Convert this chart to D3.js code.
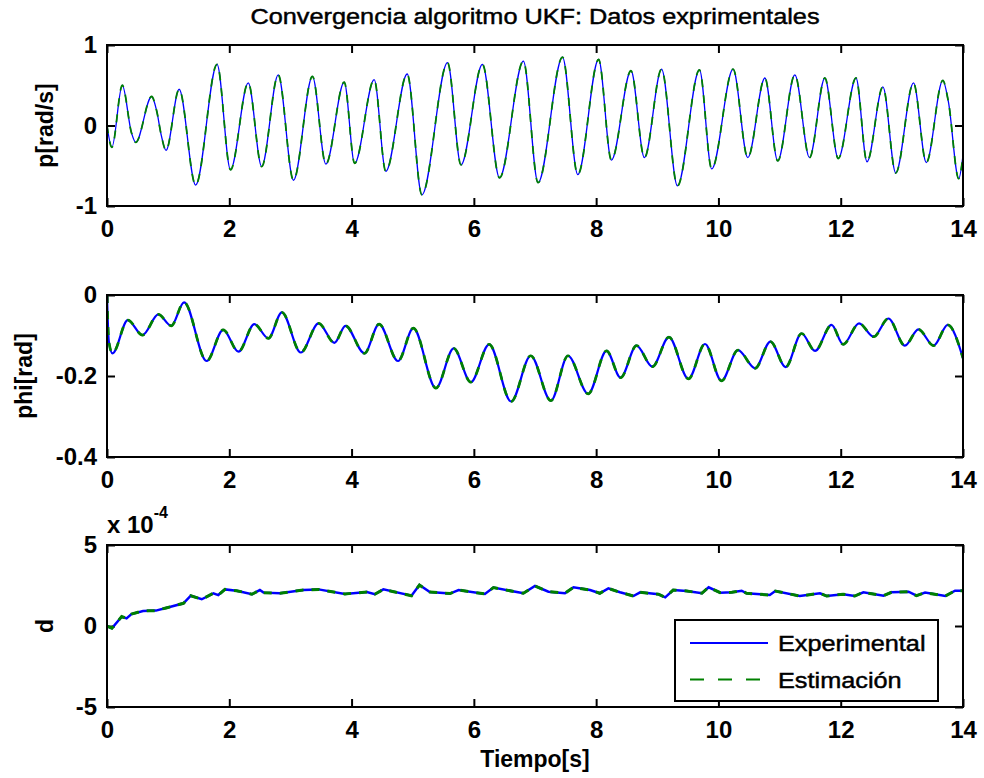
<!DOCTYPE html>
<html>
<head>
<meta charset="utf-8">
<script src="https://cdnjs.cloudflare.com/ajax/libs/d3/7.8.5/d3.min.js"></script>
<style>
  body { margin: 0; background: #fff; }
  svg text { font-family: "Liberation Sans", Arial, Helvetica, sans-serif; fill: #000; }
</style>
</head>
<body>
<svg id="chart" width="984" height="778"></svg>
<script>
// values
var titleText = "Convergencia algoritmo UKF: Datos exprimentales";
var xLabelText = "Tiempo[s]";
var seriesNames = ["Experimental", "Estimación"];
var xTicks = [0, 2, 4, 6, 8, 10, 12, 14];

// p [rad/s]
var pTime = [0, 0.08, 0.25, 0.40, 0.47, 0.73, 0.81, 0.89, 0.965, 1.18, 1.45, 1.80, 2.02, 2.31, 2.53, 2.80,
  3.05, 3.36, 3.58, 3.88, 4.05, 4.37, 4.56, 4.91, 5.15, 5.57, 5.79, 6.14, 6.42, 6.81, 7.05, 7.45,
  7.70, 8.04, 8.25, 8.57, 8.79, 9.07, 9.33, 9.69, 9.89, 10.24, 10.48, 10.76, 10.97, 11.25, 11.49,
  11.74, 11.96, 12.25, 12.43, 12.69, 12.90, 13.19, 13.40, 13.67, 13.76, 13.93, 14.0];
var pValues = [0, -0.27, 0.50, -0.09, -0.21, 0.36, 0.19, -0.13, -0.31, 0.45, -0.74, 0.76, -0.55, 0.53, -0.51, 0.63,
  -0.68, 0.61, -0.48, 0.54, -0.47, 0.57, -0.57, 0.64, -0.86, 0.78, -0.49, 0.76, -0.65, 0.80, -0.71, 0.85,
  -0.61, 0.82, -0.43, 0.68, -0.40, 0.70, -0.75, 0.69, -0.54, 0.70, -0.40, 0.59, -0.44, 0.63, -0.40,
  0.59, -0.41, 0.59, -0.45, 0.48, -0.59, 0.53, -0.46, 0.56, 0.30, -0.66, -0.37];
var pTicks = [-1, 0, 1];

// phi [rad]
var phiTime = [0, 0.03, 0.09, 0.34, 0.58, 0.84, 1.05, 1.26, 1.63, 1.90, 2.15, 2.41, 2.64, 2.86, 3.17, 3.46,
  3.72, 3.90, 4.21, 4.45, 4.76, 5.01, 5.38, 5.67, 5.95, 6.25, 6.61, 6.93, 7.26, 7.54, 7.87, 8.17,
  8.40, 8.66, 8.92, 9.19, 9.51, 9.78, 10.05, 10.32, 10.60, 10.85, 11.10, 11.36, 11.58, 11.85,
  12.04, 12.30, 12.54, 12.78, 13.05, 13.27, 13.52, 13.75, 14.0];
var phiValues = [0, -0.115, -0.144, -0.062, -0.099, -0.048, -0.076, -0.018, -0.163, -0.086, -0.140, -0.072, -0.107, -0.043, -0.142, -0.070,
  -0.118, -0.076, -0.144, -0.072, -0.163, -0.082, -0.230, -0.132, -0.215, -0.122, -0.263, -0.150, -0.261, -0.150, -0.244, -0.138,
  -0.204, -0.125, -0.177, -0.104, -0.207, -0.121, -0.212, -0.136, -0.181, -0.115, -0.178, -0.095, -0.138, -0.074,
  -0.122, -0.070, -0.103, -0.058, -0.125, -0.085, -0.125, -0.074, -0.156];
var phiTicks = [-0.4, -0.2, 0];

// d (x 10^-4)
var dTime = [0, 0.08, 0.24, 0.32, 0.40, 0.59, 0.80, 0.98, 1.25, 1.37, 1.55, 1.74, 1.82, 1.93, 2.12, 2.37,
  2.50, 2.56, 2.83, 3.21, 3.46, 3.89, 4.25, 4.38, 4.52, 4.98, 5.11, 5.28, 5.61, 5.75, 6.18, 6.32,
  6.81, 7.00, 7.22, 7.49, 7.63, 7.90, 8.06, 8.20, 8.39, 8.61, 8.72, 9.02, 9.13, 9.26, 9.48, 9.73,
  9.84, 10.03, 10.22, 10.38, 10.46, 10.84, 10.93, 11.33, 11.66, 11.77, 12.04, 12.23, 12.37, 12.70,
  12.83, 13.11, 13.24, 13.38, 13.71, 13.87, 14.0];
var dValues = [0, -0.14, 0.58, 0.47, 0.74, 0.93, 0.95, 1.13, 1.40, 1.87, 1.65, 2.02, 1.91, 2.26, 2.18, 1.96,
  2.22, 2.06, 2.02, 2.22, 2.26, 1.98, 2.10, 1.96, 2.26, 1.87, 2.53, 2.10, 2.00, 2.22, 1.98, 2.37,
  2.02, 2.47, 2.12, 2.02, 2.39, 2.22, 2.02, 2.32, 2.08, 1.85, 2.08, 1.96, 1.77, 2.22, 2.16, 2.02,
  2.39, 2.06, 2.08, 2.18, 2.02, 1.91, 2.16, 1.85, 2.02, 1.85, 1.96, 1.85, 2.08, 1.87,
  2.08, 2.12, 1.87, 2.06, 1.85, 2.18, 2.18];
var dTicks = [-5, 0, 5];

var svg = d3.select("#chart");
var left = 107, right = 963;
var x = d3.scaleLinear().domain([0, 14]).range([left, right]);

function drawPanel(id, top, bottom, time, values, yTicks, yLabel, labelX, lw, curve) {
  var y = d3.scaleLinear().domain([yTicks[0], yTicks[yTicks.length - 1]]).range([bottom, top]);
  var g = svg.append("g");
  var fmt = function(d) { return String(d); };

  // ticks on all four sides, pointing inwards
  g.append("g").attr("transform", "translate(0," + bottom + ")")
    .call(d3.axisBottom(x).tickValues(xTicks).tickSizeInner(-8).tickSizeOuter(0).tickPadding(14).tickFormat(fmt));
  g.append("g").attr("transform", "translate(0," + top + ")")
    .call(d3.axisTop(x).tickValues(xTicks).tickSizeInner(-8).tickSizeOuter(0).tickFormat(""));
  g.append("g").attr("transform", "translate(" + left + ",0)")
    .call(d3.axisLeft(y).tickValues(yTicks).tickSizeInner(-8).tickSizeOuter(0).tickPadding(10).tickFormat(fmt));
  g.append("g").attr("transform", "translate(" + right + ",0)")
    .call(d3.axisRight(y).tickValues(yTicks).tickSizeInner(-8).tickSizeOuter(0).tickFormat(""));

  g.selectAll(".domain").remove();
  g.selectAll(".tick line").attr("stroke", "#000").attr("stroke-width", 2);
  g.selectAll(".tick text").style("font-size", "24px").style("font-weight", "bold")
    .attr("font-family", null);

  g.append("clipPath").attr("id", "clip" + id)
    .append("rect").attr("x", left).attr("y", top).attr("width", right - left).attr("height", bottom - top);

  var pts = time.map(function(t, i) { return [t, values[i]]; });
  var line = d3.line().x(function(d) { return x(d[0]); }).y(function(d) { return y(d[1]); }).curve(curve);

  // experimental (blue), then estimation (green dashed) on top
  g.append("path").datum(pts).attr("clip-path", "url(#clip" + id + ")")
    .attr("d", line).attr("fill", "none").attr("stroke", "#0000ff").attr("stroke-width", lw);
  g.append("path").datum(pts).attr("clip-path", "url(#clip" + id + ")")
    .attr("d", line).attr("fill", "none").attr("stroke", "#008000").attr("stroke-width", lw + 0.5)
    .attr("stroke-dasharray", "8,8");

  g.append("rect").attr("x", left).attr("y", top).attr("width", right - left).attr("height", bottom - top)
    .attr("fill", "none").attr("stroke", "#000").attr("stroke-width", 2);

  g.append("text")
    .attr("transform", "translate(" + labelX + "," + ((top + bottom) / 2) + ") rotate(-90)")
    .attr("text-anchor", "middle")
    .style("font-size", "23px").style("font-weight", "bold")
    .text(yLabel);
  return y;
}

drawPanel(1, 45, 206, pTime, pValues, pTicks, "p[rad/s]", 53, 1.3, d3.curveMonotoneX);
drawPanel(2, 295, 457, phiTime, phiValues, phiTicks, "phi[rad]", 32, 2.2, d3.curveMonotoneX);
drawPanel(3, 545, 707, dTime, dValues, dTicks, "d", 53, 2.5, d3.curveLinear);

// exponent label of the third panel
var expo = svg.append("text").attr("x", left).attr("y", 533)
  .style("font-size", "24px").style("font-weight", "bold");
expo.append("tspan").text("x 10");
expo.append("tspan").attr("dy", -15).style("font-size", "16px").text("-4");

// title and x label
svg.append("text").attr("transform", "translate(535,24) scale(1.15,1)")
  .attr("text-anchor", "middle").style("font-size", "22px")
  .attr("stroke", "#000").attr("stroke-width", 0.45).text(titleText);
svg.append("text").attr("x", 535).attr("y", 767)
  .attr("text-anchor", "middle").style("font-size", "23px").style("font-weight", "bold").text(xLabelText);

// legend
var lg = svg.append("g");
lg.append("rect").attr("x", 675).attr("y", 620).attr("width", 263).attr("height", 81)
  .attr("fill", "#fff").attr("stroke", "#000").attr("stroke-width", 2);
var legendStyles = [{ color: "#0000ff", dash: null, w: 2 }, { color: "#008000", dash: "14,14", w: 2 }];
seriesNames.forEach(function(name, i) {
  var cy = 643 + i * 36.5;
  lg.append("line").attr("x1", 690).attr("x2", 768).attr("y1", cy).attr("y2", cy)
    .attr("stroke", legendStyles[i].color).attr("stroke-width", legendStyles[i].w)
    .attr("stroke-dasharray", legendStyles[i].dash);
  lg.append("text").attr("transform", "translate(778," + (cy + 8) + ") scale(1.15,1)")
    .style("font-size", "22px").attr("stroke", "#000").attr("stroke-width", 0.45).text(name);
});
</script>
</body>
</html>
